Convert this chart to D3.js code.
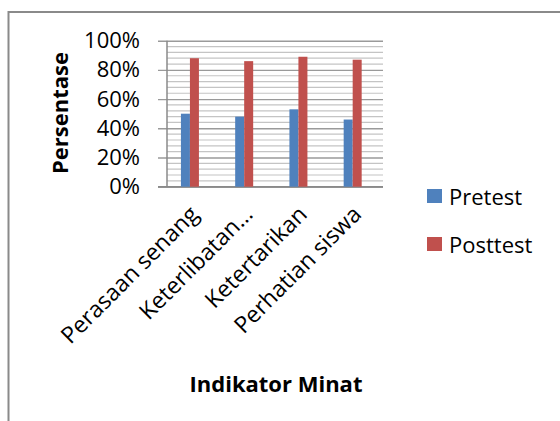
<!DOCTYPE html>
<html><head><meta charset="utf-8">
<script src="https://cdn.jsdelivr.net/npm/d3@7"></script>
<style>body{margin:0;background:#fff}svg{display:block}</style>
</head><body>
<script>
const categories = ["Perasaan senang","Keterlibatan…","Ketertarikan","Perhatian siswa"];
const seriesNames = ["Pretest","Posttest"];
const pretest = [0.50,0.48,0.53,0.46];
const posttest = [0.88,0.86,0.89,0.87];
const yTicks = [0,0.2,0.4,0.6,0.8,1.0];
const colors = ["#4F81BD","#C0504D"];
const seriesValues = [pretest, posttest];

const W=560,H=421;
const svg=d3.select("body").append("svg").attr("width",W).attr("height",H);
const font="'Open Sans', sans-serif";

// frame
svg.append("rect").attr("x",8.5).attr("y",12).attr("width",W+20).attr("height",H+20)
  .attr("fill","#fff").attr("stroke","#8a8a8a").attr("stroke-width",2);

const plotL=167, plotR=383, plotT=40.7, plotB=186.7;
const y=d3.scaleLinear().domain([0,1]).range([plotB,plotT]);
const x=d3.scaleBand().domain(categories).range([162.8,379.8]);
const xs=d3.scaleBand().domain(seriesNames).range([x.bandwidth()/2-9, x.bandwidth()/2+9]);

// minor gridlines every 4%
const minor=d3.range(0,101,4).map(v=>v/100).filter(v=>!yTicks.some(t=>Math.abs(t-v)<1e-9));
svg.append("g").selectAll("line").data(minor).join("line")
  .attr("x1",plotL).attr("x2",plotR).attr("y1",d=>y(d)).attr("y2",d=>y(d))
  .attr("stroke","#c4c4c4").attr("stroke-width",1.2);

// major gridlines via axis
const yAxis=d3.axisLeft(y).tickValues(yTicks).tickFormat(d3.format(".0%"))
  .tickSize(-(plotR-plotL)).tickPadding(18);
const gy=svg.append("g").attr("transform",`translate(${plotL},0)`).call(yAxis);
gy.select(".domain").remove();
gy.selectAll(".tick line").attr("stroke","#9a9a9a").attr("stroke-width",1.4).attr("x1",-9);
gy.selectAll(".tick text").attr("font-family",font).attr("font-size",22).attr("fill","#000")
  .attr("x",-27);

// y axis line
svg.append("line").attr("x1",plotL).attr("x2",plotL).attr("y1",plotT).attr("y2",plotB)
  .attr("stroke","#8a8a8a").attr("stroke-width",1.5);
// x axis line
svg.append("line").attr("x1",158).attr("x2",plotR).attr("y1",plotB).attr("y2",plotB)
  .attr("stroke","#8a8a8a").attr("stroke-width",1.5);

// bars
seriesNames.forEach((s,si)=>{
  svg.append("g").selectAll("rect").data(categories).join("rect")
    .attr("x",(c)=>x(c)+xs(s))
    .attr("width",xs.bandwidth())
    .attr("y",(c,i)=>y(seriesValues[si][i]))
    .attr("height",(c,i)=>plotB-y(seriesValues[si][i]))
    .attr("fill",colors[si]);
});

// x labels
svg.append("g").selectAll("text").data(categories).join("text")
  .attr("transform",c=>`translate(${x(c)+x.bandwidth()/2+10},${plotB+29}) rotate(-45)`)
  .attr("text-anchor","end").attr("font-family",font).attr("font-size",23).attr("fill","#000")
  .text(c=>c);

// axis titles
svg.append("text").attr("transform",`translate(68,113) rotate(-90)`)
  .attr("text-anchor","middle").attr("font-family",font).attr("font-weight","bold")
  .attr("font-size",22).text("Persentase");
svg.append("text").attr("x",276).attr("y",392).attr("text-anchor","middle")
  .attr("font-family",font).attr("font-weight","bold").attr("font-size",22).text("Indikator Minat");

// legend
const lg=svg.append("g").selectAll("g").data(seriesNames).join("g")
  .attr("transform",(d,i)=>`translate(427,${189+i*48})`);
lg.append("rect").attr("width",15).attr("height",14).attr("fill",(d,i)=>colors[i]);
lg.append("text").attr("x",22).attr("y",16).attr("font-family",font).attr("font-size",22).text(d=>d);
</script>
</body></html>
